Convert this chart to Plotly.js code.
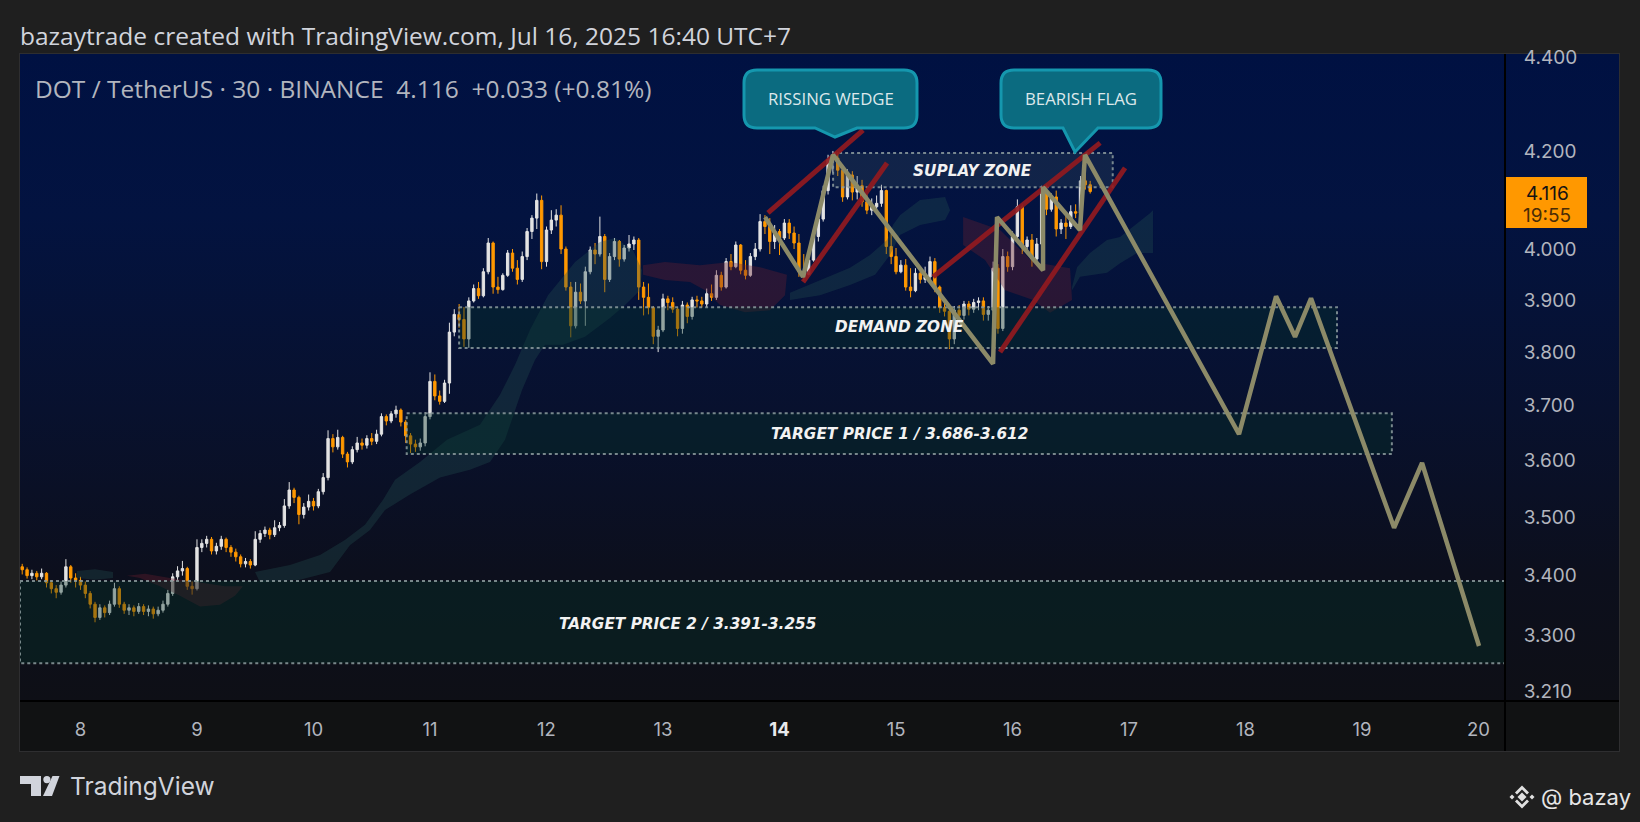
<!DOCTYPE html>
<html><head><meta charset="utf-8">
<script src="https://cdn.plot.ly/plotly-3.0.1.min.js"></script>
<style>
html,body{margin:0;padding:0;background:#1f1f1f;width:1640px;height:822px;overflow:hidden;}
#bg{position:absolute;left:20px;top:54px;width:1599px;height:647px;
 background:linear-gradient(to bottom,#001142 0%,#031340 25%,#08112e 55%,#0c0f1d 80%,#0e0f16 100%);}
#tb{position:absolute;left:20px;top:701px;width:1599px;height:50px;background:#111213;}
#frame{position:absolute;left:19px;top:53px;width:1599px;height:697px;border:1px solid #2e2e30;}
#chart{position:absolute;left:0;top:0;width:1640px;height:822px;}
</style></head>
<body>
<div id="bg"></div><div id="tb"></div><div id="frame"></div>
<div id="chart"></div>
<script>
// ---------------- DATA ----------------
// hourly candles, first candle Jul 7 12:00 (day-of-July units)
const candleStartDay = 7.5;
const candleStepHours = 1;
const openP = [
3.415,3.410,3.400,3.404,3.398,3.404,3.388,3.378,3.372,3.384,
3.415,3.396,3.392,3.384,3.370,3.352,3.330,3.346,3.338,3.352,
3.378,3.352,3.342,3.346,3.340,3.348,3.340,3.344,3.336,3.342,
3.352,3.370,3.398,3.408,3.412,3.382,3.378,3.448,3.455,3.462,
3.442,3.450,3.462,3.448,3.440,3.432,3.420,3.424,3.418,3.462,
3.472,3.478,3.470,3.482,3.486,3.520,3.548,3.535,3.505,3.518,
3.528,3.520,3.545,3.570,3.640,3.625,3.642,3.612,3.598,3.620,
3.632,3.628,3.640,3.635,3.648,3.680,3.672,3.685,3.692,3.670,
3.645,3.630,3.625,3.632,3.680,3.745,3.718,3.708,3.742,3.838,
3.872,3.862,3.825,3.898,3.922,3.908,3.955,4.012,3.925,3.920,
3.948,3.992,3.962,3.940,3.985,4.035,4.062,4.098,3.975,4.038,
4.058,4.068,4.000,3.925,3.850,3.915,3.898,3.955,3.998,3.990,
4.025,3.940,3.985,4.015,3.980,4.002,4.010,4.018,3.925,3.905,
3.885,3.830,3.842,3.902,3.895,3.882,3.845,3.890,3.868,3.900,
3.898,3.892,3.912,3.905,3.948,3.925,3.975,3.965,4.008,3.958,
3.948,3.985,4.000,4.055,4.045,4.015,4.035,4.022,4.052,4.032,
4.012,3.955,3.950,3.978,4.025,4.060,4.118,4.182,4.185,4.160,
4.105,4.150,4.115,4.128,4.095,4.078,4.085,4.092,4.118,4.005,
3.985,3.955,3.968,3.925,3.918,3.952,3.940,3.945,3.975,3.925,
3.885,3.878,3.825,3.880,3.870,3.892,3.882,3.895,3.898,3.872,
3.880,3.962,3.845,3.985,3.965,4.025,4.085,4.005,4.018,3.980,
4.010,4.115,4.080,4.105,4.040,4.052,4.045,4.075,4.072,4.138,4.130];
const highP = [
3.420,3.414,3.410,3.408,3.412,3.406,3.392,3.384,3.390,3.428,
3.418,3.404,3.398,3.390,3.374,3.356,3.352,3.350,3.358,3.388,
3.382,3.356,3.352,3.350,3.354,3.352,3.350,3.348,3.348,3.358,
3.376,3.404,3.416,3.425,3.415,3.390,3.462,3.462,3.468,3.466,
3.456,3.468,3.465,3.452,3.446,3.436,3.430,3.428,3.476,3.478,
3.484,3.482,3.495,3.492,3.532,3.562,3.552,3.538,3.525,3.540,
3.534,3.550,3.578,3.655,3.648,3.656,3.645,3.616,3.626,3.643,
3.640,3.646,3.650,3.656,3.686,3.684,3.690,3.700,3.695,3.674,
3.650,3.638,3.640,3.688,3.762,3.758,3.728,3.748,3.856,3.882,
3.892,3.886,3.905,3.930,3.935,3.962,4.022,4.015,3.945,3.952,
3.998,4.000,3.978,3.995,4.042,4.068,4.112,4.108,4.045,4.078,
4.080,4.088,4.005,3.935,3.935,3.932,3.965,4.005,4.012,4.065,
4.030,3.992,4.022,4.018,4.008,4.028,4.025,4.022,3.935,3.932,
3.888,3.850,3.912,3.908,3.905,3.885,3.898,3.895,3.906,3.908,
3.906,3.922,3.930,3.958,3.955,3.982,3.990,4.015,4.010,3.978,
3.992,4.012,4.070,4.068,4.062,4.048,4.040,4.060,4.060,4.045,
4.030,3.990,3.985,4.032,4.068,4.128,4.192,4.200,4.198,4.172,
4.162,4.158,4.148,4.140,4.110,4.102,4.108,4.130,4.120,4.030,
4.002,3.978,3.980,3.962,3.962,3.965,3.965,3.985,3.982,3.928,
3.895,3.880,3.888,3.890,3.898,3.898,3.902,3.905,3.905,3.888,
3.975,3.970,4.000,3.995,4.035,4.100,4.090,4.025,4.030,4.022,
4.128,4.130,4.112,4.118,4.060,4.070,4.088,4.090,4.148,4.155,4.138];
const lowP = [
3.402,3.395,3.394,3.392,3.394,3.380,3.370,3.362,3.368,3.380,
3.388,3.380,3.376,3.362,3.345,3.322,3.326,3.330,3.334,3.348,
3.346,3.336,3.334,3.332,3.336,3.334,3.332,3.328,3.332,3.338,
3.348,3.366,3.392,3.400,3.376,3.368,3.375,3.440,3.448,3.436,
3.436,3.444,3.440,3.432,3.424,3.414,3.414,3.412,3.416,3.456,
3.466,3.462,3.466,3.476,3.482,3.515,3.525,3.488,3.498,3.512,
3.512,3.516,3.540,3.565,3.615,3.620,3.605,3.588,3.594,3.615,
3.620,3.622,3.628,3.630,3.644,3.664,3.668,3.678,3.662,3.632,
3.614,3.616,3.618,3.626,3.675,3.710,3.702,3.705,3.722,3.830,
3.846,3.810,3.808,3.895,3.902,3.905,3.950,3.912,3.912,3.918,
3.945,3.955,3.930,3.935,3.978,4.020,4.040,3.960,3.965,4.030,
4.045,3.990,3.918,3.828,3.845,3.892,3.850,3.950,3.970,3.985,
3.915,3.935,3.978,3.965,3.975,3.995,3.998,3.900,3.870,3.872,
3.815,3.800,3.838,3.880,3.875,3.830,3.835,3.855,3.862,3.885,
3.885,3.886,3.898,3.900,3.918,3.922,3.958,3.962,3.950,3.940,
3.945,3.978,3.995,4.030,3.990,4.000,3.988,4.018,4.020,4.000,
3.945,3.938,3.948,3.975,4.015,4.055,4.110,4.155,4.148,4.095,
4.100,4.098,4.100,4.085,4.070,4.068,4.075,4.085,3.990,3.970,
3.950,3.952,3.918,3.905,3.915,3.932,3.933,3.940,3.915,3.875,
3.868,3.806,3.815,3.858,3.862,3.870,3.875,3.880,3.860,3.860,
3.830,3.835,3.840,3.955,3.958,4.020,3.990,3.995,3.965,3.975,
4.005,4.068,4.075,4.025,4.030,4.020,4.040,4.062,4.060,4.120,4.112];
const closeP = [
3.410,3.400,3.404,3.398,3.404,3.388,3.378,3.372,3.384,3.415,
3.396,3.392,3.384,3.370,3.352,3.330,3.346,3.338,3.352,3.378,
3.352,3.342,3.346,3.340,3.348,3.340,3.344,3.336,3.342,3.352,
3.370,3.398,3.408,3.412,3.382,3.378,3.448,3.455,3.462,3.442,
3.450,3.462,3.448,3.440,3.432,3.420,3.424,3.418,3.462,3.472,
3.478,3.470,3.482,3.486,3.520,3.548,3.535,3.505,3.518,3.528,
3.520,3.545,3.570,3.640,3.625,3.642,3.612,3.598,3.620,3.632,
3.628,3.640,3.635,3.648,3.680,3.672,3.685,3.692,3.670,3.645,
3.630,3.625,3.632,3.680,3.745,3.718,3.708,3.742,3.838,3.872,
3.862,3.825,3.898,3.922,3.908,3.955,4.012,3.925,3.920,3.948,
3.992,3.962,3.940,3.985,4.035,4.062,4.098,3.975,4.038,4.058,
4.068,4.000,3.925,3.850,3.915,3.898,3.955,3.998,3.990,4.025,
3.940,3.985,4.015,3.980,4.002,4.010,4.018,3.925,3.905,3.885,
3.830,3.842,3.902,3.895,3.882,3.845,3.890,3.868,3.900,3.898,
3.892,3.912,3.905,3.948,3.925,3.975,3.965,4.008,3.958,3.948,
3.985,4.000,4.055,4.045,4.015,4.035,4.022,4.052,4.032,4.012,
3.955,3.950,3.978,4.025,4.060,4.118,4.182,4.185,4.160,4.105,
4.150,4.115,4.128,4.095,4.078,4.085,4.092,4.118,4.005,3.985,
3.955,3.968,3.925,3.918,3.952,3.940,3.945,3.975,3.925,3.885,
3.878,3.825,3.880,3.870,3.892,3.882,3.895,3.898,3.872,3.880,
3.962,3.845,3.985,3.965,4.025,4.085,4.005,4.018,3.980,4.010,
4.115,4.080,4.105,4.040,4.052,4.045,4.075,4.072,4.138,4.130,4.116];

// price zones
const zoneNames   = ['SUPLAY ZONE','DEMAND ZONE','TARGET PRICE 1 / 3.686-3.612','TARGET PRICE 2 / 3.391-3.255'];
const zoneStart   = [14.46, 11.25, 10.80, 7.481];
const zoneEnd     = [16.86, 18.785, 19.256, 20.227];
const zoneTop     = [4.196, 3.886, 3.686, 3.391];
const zoneBottom  = [4.125, 3.808, 3.612, 3.255];
const zoneLabelDay   = [15.66, 15.03, 15.03, 13.21];
const zoneLabelPrice = [4.158, 3.847, 3.649, 3.319];

// red pattern trendlines (wedge and flag)
const trendStartDay   = [13.901, 14.202, 15.318, 15.893];
const trendStartPrice = [4.0725, 3.935, 3.945, 3.800];
const trendEndDay     = [14.717, 14.923, 16.752, 16.966];
const trendEndPrice   = [4.244, 4.175, 4.217, 4.165];

// projected zig-zag path
const pathDays   = [13.876,14.202,14.459,15.833,15.867,16.262,16.262,16.579,16.622,17.944,18.262,18.425,18.562,19.275,19.515,20.004];
const pathPrices = [4.064,3.945,4.192,3.778,4.064,3.958,4.125,4.038,4.192,3.648,3.907,3.829,3.903,3.482,3.596,3.283];

// ichimoku-like cloud outlines (day, price)
const cloudGreenADays   = [7.970,8.124,8.279,8.279,8.124,7.970];
const cloudGreenAPrices = [3.408,3.411,3.406,3.396,3.393,3.396];
const cloudGreenBDays   = [9.498,9.798,10.056,10.270,10.442,10.597,10.700,10.914,11.146,11.429,11.601,11.730,11.858,12.013,12.245,12.459,12.588,12.742,12.820,
                           12.803,12.674,12.545,12.330,12.142,11.987,11.901,11.790,11.644,11.515,11.343,11.086,10.828,10.614,10.485,10.313,10.142,9.884,9.541];
const cloudGreenBPrices = [3.406,3.418,3.435,3.461,3.487,3.531,3.566,3.598,3.638,3.665,3.720,3.776,3.842,3.909,3.974,4.014,4.022,3.998,3.958,
                           3.919,3.890,3.865,3.829,3.814,3.814,3.785,3.729,3.638,3.598,3.584,3.570,3.540,3.513,3.478,3.452,3.406,3.393,3.389];
const cloudGreenCDays   = [14.090,14.348,14.605,14.777,14.923,14.974,15.034,15.206,15.421,15.464,15.421,15.206,15.034,14.948,14.820,14.605,14.348,14.090];
const cloudGreenCPrices = [3.914,3.939,3.963,3.988,4.018,4.048,4.068,4.099,4.105,4.078,4.058,4.048,4.028,3.988,3.949,3.929,3.909,3.900];
const cloudGreenDDays   = [16.511,16.554,16.665,16.811,16.923,17.034,17.180,17.206,17.206,17.069,16.923,16.811,16.579,16.511];
const cloudGreenDPrices = [3.925,3.964,3.992,4.018,4.024,4.044,4.072,4.078,3.992,3.992,3.972,3.953,3.945,3.919];
const cloudRedADays   = [8.399,8.554,8.768,9.026,9.240,9.395,9.326,9.197,9.026,8.854,8.682,8.511];
const cloudRedAPrices = [3.400,3.403,3.396,3.389,3.382,3.382,3.366,3.351,3.348,3.366,3.382,3.396];
const cloudRedBDays   = [12.828,13.017,13.318,13.575,13.833,14.064,14.047,13.918,13.704,13.489,13.361,13.232,13.017,12.828];
const cloudRedBPrices = [3.968,3.974,3.968,3.974,3.964,3.949,3.909,3.880,3.876,3.890,3.919,3.935,3.939,3.949];
const cloudRedCDays   = [15.576,15.893,16.176,16.494,16.511,16.322,16.176,15.936,15.764,15.576];
const cloudRedCPrices = [4.064,4.038,3.974,3.962,3.900,3.875,3.900,3.919,3.978,4.008];

// axis ticks
const dayTicks  = [8,9,10,11,12,13,14,15,16,17,18,19,20];
const dayLabels = ['8','9','10','11','12','13','<b><span style="color:#e8e9ec">14</span></b>','15','16','17','18','19','20'];
const priceTicks  = [4.4,4.2,4.0,3.9,3.8,3.7,3.6,3.5,3.4,3.3,3.21];
const priceLabels = ['4.400','4.200','4.000','3.900','3.800','3.700','3.600','3.500','3.400','3.300','3.210'];

const headerText = 'bazaytrade created with TradingView.com, Jul 16, 2025 16:40 UTC+7';
const symbolText = 'DOT / TetherUS \u00b7 30 \u00b7 BINANCE\u00a0\u00a04.116\u00a0\u00a0+0.033 (+0.81%)';
const lastPriceText = '4.116';
const countdownText = '19:55';

// ---------------- LAYOUT HELPERS ----------------
const PL = 20, PR = 1505, PT = 54, PB = 701;
const px = X => (X - PL) / (PR - PL);
const py = Y => (PB - Y) / (PB - PT);
function calloutPath(x0, y0, x1, y1, r, tl, tr, tx, ty) {
  const P = (X, Y) => px(X).toFixed(5) + ',' + py(Y).toFixed(5);
  return 'M' + P(x0 + r, y0) + ' L' + P(x1 - r, y0) + ' Q' + P(x1, y0) + ' ' + P(x1, y0 + r) +
    ' L' + P(x1, y1 - r) + ' Q' + P(x1, y1) + ' ' + P(x1 - r, y1) +
    ' L' + P(tr, y1) + ' L' + P(tx, ty) + ' L' + P(tl, y1) +
    ' L' + P(x0 + r, y1) + ' Q' + P(x0, y1) + ' ' + P(x0, y1 - r) +
    ' L' + P(x0, y0 + r) + ' Q' + P(x0, y0) + ' ' + P(x0 + r, y0) + ' Z';
}
function polyPath(pts) {
  return 'M' + pts.map(p => px(p[0]).toFixed(5) + ',' + py(p[1]).toFixed(5)).join(' L') + ' Z';
}

// ---------------- TRACES ----------------
const traces = [];
const GREEN = 'rgba(35,80,80,0.34)', RED = 'rgba(105,30,48,0.36)';
const clouds = [
  [cloudGreenADays, cloudGreenAPrices, GREEN],
  [cloudGreenBDays, cloudGreenBPrices, GREEN],
  [cloudGreenCDays, cloudGreenCPrices, GREEN],
  [cloudGreenDDays, cloudGreenDPrices, GREEN],
  [cloudRedADays, cloudRedAPrices, RED],
  [cloudRedBDays, cloudRedBPrices, RED],
  [cloudRedCDays, cloudRedCPrices, RED]
];
clouds.forEach(c => traces.push({
  type: 'scatter', mode: 'lines', x: c[0].concat([c[0][0]]), y: c[1].concat([c[1][0]]),
  fill: 'toself', fillcolor: c[2], line: {width: 0}, hoverinfo: 'skip'
}));

zoneNames.forEach((n, i) => traces.push({
  type: 'scatter', mode: 'lines', name: n,
  x: [zoneStart[i], zoneEnd[i], zoneEnd[i], zoneStart[i], zoneStart[i]],
  y: [zoneTop[i], zoneTop[i], zoneBottom[i], zoneBottom[i], zoneTop[i]],
  fill: 'toself', fillcolor: i === 0 ? 'rgba(60,85,95,0.26)' : 'rgba(5,52,42,0.36)',
  line: {color: 'rgba(140,155,158,0.85)', width: 2, dash: 'dot'}, hoverinfo: 'skip'
}));

const times = openP.map((_, i) => candleStartDay + i * candleStepHours / 24);
traces.push({
  type: 'candlestick', x: times, open: openP, high: highP, low: lowP, close: closeP,
  increasing: {line: {color: '#e3e3e3', width: 1}, fillcolor: '#e3e3e3'},
  decreasing: {line: {color: '#ff9800', width: 1}, fillcolor: '#ff9800'},
  whiskerwidth: 0, hoverinfo: 'skip', showlegend: false
});

trendStartDay.forEach((d, i) => traces.push({
  type: 'scatter', mode: 'lines', x: [d, trendEndDay[i]], y: [trendStartPrice[i], trendEndPrice[i]],
  line: {color: 'rgba(145,26,32,0.92)', width: 5}, hoverinfo: 'skip'
}));

traces.push({
  type: 'scatter', mode: 'lines', x: pathDays, y: pathPrices,
  line: {color: '#8c8a68', width: 4.5, shape: 'linear'}, hoverinfo: 'skip'
});

// ---------------- LAYOUT ----------------
const font = '"Open Sans", "Noto Sans", sans-serif';
const axisFont = 'Inter, "Noto Sans", sans-serif';
const shapes = [
  {type: 'path', xref: 'paper', yref: 'paper', path: calloutPath(744, 70, 917, 128, 13, 815, 857, 835, 137),
   fillcolor: '#0b6b80', line: {color: '#1597ae', width: 3}},
  {type: 'path', xref: 'paper', yref: 'paper', path: calloutPath(1001, 70, 1161, 128, 13, 1063, 1098, 1075, 152),
   fillcolor: '#0b6b80', line: {color: '#1597ae', width: 3}},
  // price label box
  {type: 'rect', xref: 'paper', yref: 'paper', x0: px(1505), x1: px(1587), y0: py(228), y1: py(177),
   fillcolor: '#ff9800', line: {width: 0}},
  // separators
  {type: 'line', xref: 'paper', yref: 'paper', x0: 1, x1: 1, y0: py(751), y1: py(54), line: {color: '#000', width: 2}},
  {type: 'line', xref: 'paper', yref: 'paper', x0: 0, x1: px(1619), y0: 0, y1: 0, line: {color: '#000', width: 2}},
  // TradingView logo
  {type: 'path', xref: 'paper', yref: 'paper', path: polyPath([[20,776],[41,776],[41,796],[31,796],[31,784],[20,784]]), fillcolor: '#d1d4dc', line: {width: 0}},
  {type: 'circle', xref: 'paper', yref: 'paper', x0: px(43.3), x1: px(50.5), y0: py(783.2), y1: py(776), fillcolor: '#d1d4dc', line: {width: 0}},
  {type: 'path', xref: 'paper', yref: 'paper', path: polyPath([[43,796],[52,796],[59.5,776],[52.5,776]]), fillcolor: '#d1d4dc', line: {width: 0}},
  // Binance-like icon
  {type: 'path', xref: 'paper', yref: 'paper', path: polyPath([[1522,792.5],[1526.5,797],[1522,801.5],[1517.5,797]]), fillcolor: '#e0e0e0', line: {width: 0}},
  {type: 'path', xref: 'paper', yref: 'paper', path: polyPath([[1512,794.5],[1514.5,797],[1512,799.5],[1509.5,797]]), fillcolor: '#e0e0e0', line: {width: 0}},
  {type: 'path', xref: 'paper', yref: 'paper', path: polyPath([[1532,794.5],[1534.5,797],[1532,799.5],[1529.5,797]]), fillcolor: '#e0e0e0', line: {width: 0}},
  {type: 'path', xref: 'paper', yref: 'paper', path: polyPath([[1522,785.5],[1529,792.5],[1527,794.5],[1522,789.5],[1517,794.5],[1515,792.5]]), fillcolor: '#e0e0e0', line: {width: 0}},
  {type: 'path', xref: 'paper', yref: 'paper', path: polyPath([[1522,808.5],[1529,801.5],[1527,799.5],[1522,804.5],[1517,799.5],[1515,801.5]]), fillcolor: '#e0e0e0', line: {width: 0}}
];

const annotations = [
  {xref: 'paper', yref: 'paper', x: px(18), y: py(35), xanchor: 'left', yanchor: 'middle', showarrow: false,
   text: headerText, font: {family: font, size: 24.5, color: '#d1d4dc'}},
  {xref: 'paper', yref: 'paper', x: px(33), y: py(88), xanchor: 'left', yanchor: 'middle', showarrow: false,
   text: symbolText, font: {family: font, size: 24.5, color: '#b2b5be'}},
  {xref: 'paper', yref: 'paper', x: px(68), y: py(786), xanchor: 'left', yanchor: 'middle', showarrow: false,
   text: 'TradingView', font: {family: axisFont, size: 24.5, color: '#d1d4dc'}},
  {xref: 'paper', yref: 'paper', x: px(1633), y: py(797), xanchor: 'right', yanchor: 'middle', showarrow: false,
   text: '@ bazay', font: {family: axisFont, size: 22, color: '#e6e6e6'}},
  {xref: 'paper', yref: 'paper', x: px(830.5), y: py(98), xanchor: 'center', yanchor: 'middle', showarrow: false,
   text: 'RISSING WEDGE', font: {family: font, size: 16.8, color: '#dde8eb'}},
  {xref: 'paper', yref: 'paper', x: px(1081), y: py(98), xanchor: 'center', yanchor: 'middle', showarrow: false,
   text: 'BEARISH FLAG', font: {family: font, size: 16.8, color: '#dde8eb'}},
  {xref: 'paper', yref: 'paper', x: px(1547), y: py(193), xanchor: 'center', yanchor: 'middle', showarrow: false,
   text: lastPriceText, font: {family: axisFont, size: 19, color: '#131313'}},
  {xref: 'paper', yref: 'paper', x: px(1547), y: py(215), xanchor: 'center', yanchor: 'middle', showarrow: false,
   text: countdownText, font: {family: axisFont, size: 19, color: '#4a2c06'}}
];
zoneNames.forEach((n, i) => annotations.push({
  xref: 'x', yref: 'y', x: zoneLabelDay[i], y: Math.log10(zoneLabelPrice[i]), xanchor: 'center', yanchor: 'middle',
  showarrow: false, text: '<b><i>' + n + '</i></b>', font: {family: '"DejaVu Sans", sans-serif', size: 15.3, color: '#f2f2f2'}
}));

const layout = {
  width: 1640, height: 822,
  margin: {l: PL, r: 1640 - PR, t: PT, b: 822 - PB, pad: 0},
  paper_bgcolor: 'rgba(0,0,0,0)', plot_bgcolor: 'rgba(0,0,0,0)',
  showlegend: false, hovermode: false,
  xaxis: {
    range: [7.481, 20.227], showgrid: false, zeroline: false, showline: false,
    tickmode: 'array', tickvals: dayTicks, ticktext: dayLabels,
    ticks: 'outside', ticklen: 12, tickcolor: 'rgba(0,0,0,0)',
    tickfont: {family: axisFont, size: 18.5, color: '#b2b5be'},
    rangeslider: {visible: false}, fixedrange: true
  },
  yaxis: {
    type: 'log', side: 'right', range: [Math.log10(3.1944), Math.log10(4.4076)],
    showgrid: false, zeroline: false, showline: false,
    tickmode: 'array', tickvals: priceTicks, ticktext: priceLabels,
    ticks: 'outside', ticklen: 14, tickcolor: 'rgba(0,0,0,0)',
    tickfont: {family: axisFont, size: 19, color: '#b2b5be'}, fixedrange: true
  },
  shapes: shapes, annotations: annotations
};

Plotly.newPlot('chart', traces, layout, {displayModeBar: false, staticPlot: true});
</script>
</body></html>
